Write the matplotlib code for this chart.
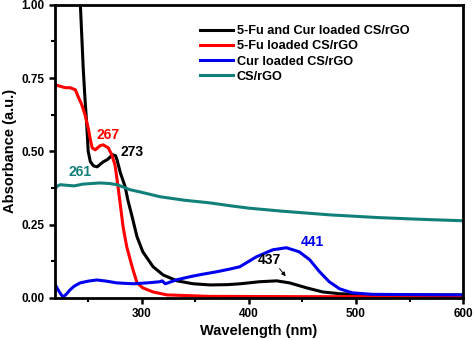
import matplotlib
matplotlib.use('Agg')
import matplotlib.pyplot as plt

plt.rcParams['font.family'] = 'Liberation Sans'
plt.rcParams['font.weight'] = 'bold'

# UV-vis spectra, wavelength (nm) vs absorbance
wl_both = [240, 242.7, 245.4, 247, 248.5, 250, 252, 255, 258.4, 261, 264, 268,
           271, 273, 275.5, 277, 280, 284.5, 287, 291, 295.6, 301, 310.6, 320,
           333, 348, 364, 380, 392, 410, 426, 438, 454, 469, 485, 500, 516,
           550, 600]
abs_both = [1.10, 1.00, 0.78, 0.68, 0.60, 0.50, 0.465, 0.45, 0.447, 0.455,
            0.464, 0.472, 0.482, 0.488, 0.485, 0.47, 0.427, 0.379, 0.334,
            0.277, 0.208, 0.157, 0.106, 0.078, 0.058, 0.048, 0.044, 0.045,
            0.048, 0.055, 0.058, 0.051, 0.034, 0.02, 0.014, 0.012, 0.01,
            0.01, 0.01]

wl_fu = [219, 228.6, 233, 238, 240.7, 244, 247, 250, 252, 253.7, 256.6, 261,
         264, 268.7, 272, 275, 277, 279.8, 282.6, 286, 291, 295.6, 301, 310.6,
         323.6, 363, 450, 600]
abs_fu = [0.727, 0.717, 0.717, 0.71, 0.686, 0.659, 0.625, 0.58, 0.54, 0.512,
          0.505, 0.519, 0.522, 0.512, 0.488, 0.454, 0.403, 0.324, 0.242,
          0.174, 0.106, 0.051, 0.034, 0.02, 0.01, 0.005, 0.004, 0.004]

wl_cur = [219.3, 222, 224.5, 226.7, 230, 233, 237, 242.5, 250, 258, 267,
          276.7, 292, 305, 317, 319, 322, 333, 345, 356, 370, 382, 391.5, 407,
          422.4, 435, 447, 456.8, 466, 475, 484.6, 496.6, 515, 550, 600]
abs_cur = [0.044, 0.027, 0.012, 0.003, 0.014, 0.027, 0.04, 0.051, 0.057,
           0.061, 0.057, 0.051, 0.048, 0.051, 0.055, 0.058, 0.048, 0.062,
           0.072, 0.08, 0.089, 0.098, 0.106, 0.14, 0.164, 0.171, 0.157, 0.13,
           0.089, 0.055, 0.031, 0.017, 0.012, 0.011, 0.01]

wl_cs = [219, 221, 224, 230, 237, 245, 253, 261, 270, 277, 289, 300, 317,
         340, 363.6, 383, 400, 430, 476, 520, 560, 600]
abs_cs = [0.372, 0.381, 0.386, 0.384, 0.382, 0.388, 0.39, 0.392, 0.39, 0.386,
          0.369, 0.36, 0.345, 0.333, 0.324, 0.314, 0.306, 0.296, 0.283, 0.274,
          0.268, 0.263]

fig = plt.figure(figsize=(4.74, 3.40), dpi=100)
ax = fig.add_axes([0.116, 0.124, 0.861, 0.862])

lw = 2.2
ax.plot(wl_both, abs_both, color='black', lw=lw, label='5-Fu and Cur loaded CS/rGO')
ax.plot(wl_fu, abs_fu, color='#ff0000', lw=lw, label='5-Fu loaded CS/rGO')
ax.plot(wl_cur, abs_cur, color='#0000ee', lw=lw, label='Cur loaded CS/rGO')
ax.plot(wl_cs, abs_cs, color='#12807a', lw=lw, label='CS/rGO')

# peak labels
peak_fs = 10
ax.text(268.7, 0.556, '267', color='#ff0000', fontsize=peak_fs,
        fontweight='bold', ha='center', va='center')
ax.text(291, 0.498, '273', color='black', fontsize=peak_fs,
        fontweight='bold', ha='center', va='center')
ax.text(242.5, 0.43, '261', color='#12807a', fontsize=peak_fs,
        fontweight='bold', ha='center', va='center')
ax.text(459.5, 0.191, '441', color='#0000ee', fontsize=peak_fs,
        fontweight='bold', ha='center', va='center')
ax.text(419.5, 0.13, '437', color='black', fontsize=peak_fs,
        fontweight='bold', ha='center', va='center')
ax.annotate('', xy=(436, 0.066), xytext=(427, 0.107),
            arrowprops=dict(arrowstyle='-|>', color='black', lw=0.7,
                            mutation_scale=6))

ax.set_xlim(219, 600)
ax.set_ylim(0, 1.0)
ax.set_xticks([300, 400, 500, 600])
ax.set_xticks([250, 350, 450, 550], minor=True)
ax.set_yticks([0, 0.25, 0.5, 0.75, 1.0])
ax.set_yticks([0.125, 0.375, 0.625, 0.875], minor=True)
ax.set_yticklabels(['0.00', '0.25', '0.50', '0.75', '1.00'])

ax.tick_params(which='major', direction='out', length=4, width=1.8,
               labelsize=8.5, top=False, right=False)
ax.tick_params(which='minor', direction='out', length=3, width=1.5,
               top=False, right=False)
for lab in ax.get_xticklabels() + ax.get_yticklabels():
    lab.set_fontweight('bold')
for sp in ax.spines.values():
    sp.set_linewidth(2)

ax.set_xlabel('Wavelength (nm)', fontsize=10.5, fontweight='bold', labelpad=3)
ax.set_ylabel('Absorbance (a.u.)', fontsize=10.5, fontweight='bold', labelpad=3)

leg = ax.legend(loc='upper left', bbox_to_anchor=(0.355, 0.93), frameon=False,
                fontsize=9.2, handlelength=2.6, handletextpad=0.3,
                labelspacing=0.25, borderaxespad=0, borderpad=0)
for t in leg.get_texts():
    t.set_fontweight('bold')

fig.savefig('out.png', dpi=100)
